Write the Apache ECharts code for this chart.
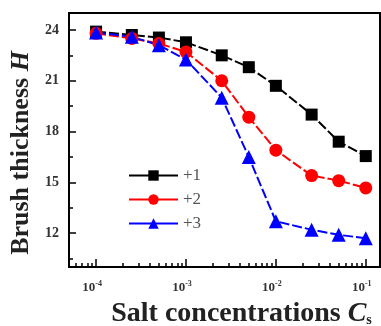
<!DOCTYPE html>
<html>
<head>
<meta charset="utf-8">
<script src="https://cdn.jsdelivr.net/npm/echarts@6/dist/echarts.min.js"></script>
<style>
  html, body { margin: 0; padding: 0; background: #fff; }
  #chart { width: 381px; height: 326px; }
</style>
</head>
<body>
<div id="chart"></div>
<script>
// salt concentration C_s (log scale)
const concentrations = [1e-4, 2.5e-4, 5e-4, 1e-3, 2.5e-3, 5e-3, 1e-2, 2.5e-2, 5e-2, 1e-1];
const valence1 = [23.9, 23.7, 23.55, 23.27, 22.5, 21.8, 20.7, 19.0, 17.4, 16.55];
const valence2 = [23.8, 23.5, 23.2, 22.7, 21.0, 18.85, 16.9, 15.4, 15.1, 14.67];
const valence3 = [23.85, 23.6, 23.1, 22.25, 20.0, 16.5, 12.7, 12.2, 11.9, 11.7];
const xMin = 5e-5;
const xMax = 0.144;
const xMajorTicks = [1e-4, 1e-3, 1e-2, 1e-1];
const xMinorTicks = [6e-5, 7e-5, 8e-5, 9e-5,
  2e-4, 3e-4, 4e-4, 5e-4, 6e-4, 7e-4, 8e-4, 9e-4,
  2e-3, 3e-3, 4e-3, 5e-3, 6e-3, 7e-3, 8e-3, 9e-3,
  2e-2, 3e-2, 4e-2, 5e-2, 6e-2, 7e-2, 8e-2, 9e-2];
const yMajorTicks = [12, 15, 18, 21, 24];
const yMinorTicks = [10.5, 13.5, 16.5, 19.5, 22.5];

const chart = echarts.init(document.getElementById("chart"));
const serif = "Liberation Serif";
const pairs = (ys) => concentrations.map((c, i) => [c, ys[i]]);

const makeSeries = (name, color, symbol, size, ys) => ({
  name,
  type: "line",
  data: pairs(ys),
  symbol,
  symbolSize: size,
  color,
  lineStyle: { color, width: 2, type: [10, 3] },
  itemStyle: { color },
});

chart.setOption({
  animation: false,
  grid: {
    left: 69, right: 1, top: 13, bottom: 59,
    outerBoundsMode: "none",
    containLabel: false,
    show: true, borderColor: "#000", borderWidth: 2,
  },
  legend: {
    orient: "vertical",
    left: 123, top: 162,
    itemWidth: 49, itemHeight: 13, itemGap: 7,
    lineStyle: { type: "solid", width: 2 },
    textStyle: { fontFamily: serif, fontSize: 17, color: "#555" },
    data: ["+1", "+2", "+3"],
  },
  xAxis: [
    {
      type: "log",
      logBase: 10,
      min: xMin, max: xMax,
      name: "Salt concentrations {i|C}{sub|s}",
      nameLocation: "middle",
      nameGap: 31,
      nameTextStyle: {
        fontFamily: serif, fontSize: 28, fontWeight: "bold", color: "#222",
        padding: [0, 0, 0, 34],
        rich: {
          i: { fontFamily: serif, fontSize: 28, fontWeight: "bold", fontStyle: "italic", color: "#222" },
          sub: { fontFamily: serif, fontSize: 14, fontWeight: "bold", color: "#222", verticalAlign: "bottom" },
        },
      },
      axisLine: { lineStyle: { color: "#000", width: 2 } },
      axisTick: { inside: true, length: 8, customValues: xMajorTicks, lineStyle: { color: "#000", width: 1.5 } },
      axisLabel: {
        customValues: xMajorTicks,
        margin: 13,
        padding: [0, 8, 0, 0],
        formatter: (v) => "10{sup|" + Math.round(Math.log10(v)) + "}",
        fontFamily: serif, fontSize: 13, fontWeight: "bold", color: "#333",
        rich: {
          sup: { fontFamily: serif, fontSize: 8, fontWeight: "bold", color: "#333", verticalAlign: "top", padding: [0, 0, 8, 0] },
        },
      },
      splitLine: { show: false },
    },
    {
      // minor ticks of the log axis, placed on the log10 scale
      type: "value",
      min: Math.log10(xMin), max: Math.log10(xMax),
      position: "bottom",
      axisLine: { show: false, onZero: false },
      axisTick: { inside: true, length: 4, customValues: xMinorTicks.map(Math.log10), lineStyle: { color: "#000", width: 1.5 } },
      axisLabel: { show: false },
      splitLine: { show: false },
    },
  ],
  yAxis: [
    {
      type: "value",
      min: 10, max: 25,
      name: "Brush thickness {i|H}",
      nameLocation: "middle",
      nameGap: 35,
      nameTextStyle: {
        fontFamily: serif, fontSize: 26, fontWeight: "bold", color: "#222",
        padding: [0, 26, 0, 0],
        rich: {
          i: { fontFamily: serif, fontSize: 26, fontWeight: "bold", fontStyle: "italic", color: "#222" },
        },
      },
      axisLine: { lineStyle: { color: "#000", width: 2 } },
      axisTick: { inside: true, length: 7, customValues: yMajorTicks, lineStyle: { color: "#000", width: 1.5 } },
      axisLabel: {
        customValues: yMajorTicks,
        margin: 10,
        fontFamily: serif, fontSize: 14, fontWeight: "bold", color: "#333",
      },
      splitLine: { show: false },
    },
    {
      type: "value",
      min: 10, max: 25,
      position: "left",
      axisLine: { show: false },
      axisTick: { inside: true, length: 4, customValues: yMinorTicks, lineStyle: { color: "#000", width: 1.5 } },
      axisLabel: { show: false },
      splitLine: { show: false },
    },
  ],
  series: [
    makeSeries("+1", "#000000", "rect", 12, valence1),
    makeSeries("+2", "#ff0000", "circle", 13, valence2),
    makeSeries("+3", "#0000ff", "triangle", 14, valence3),
  ],
});
</script>
</body>
</html>
